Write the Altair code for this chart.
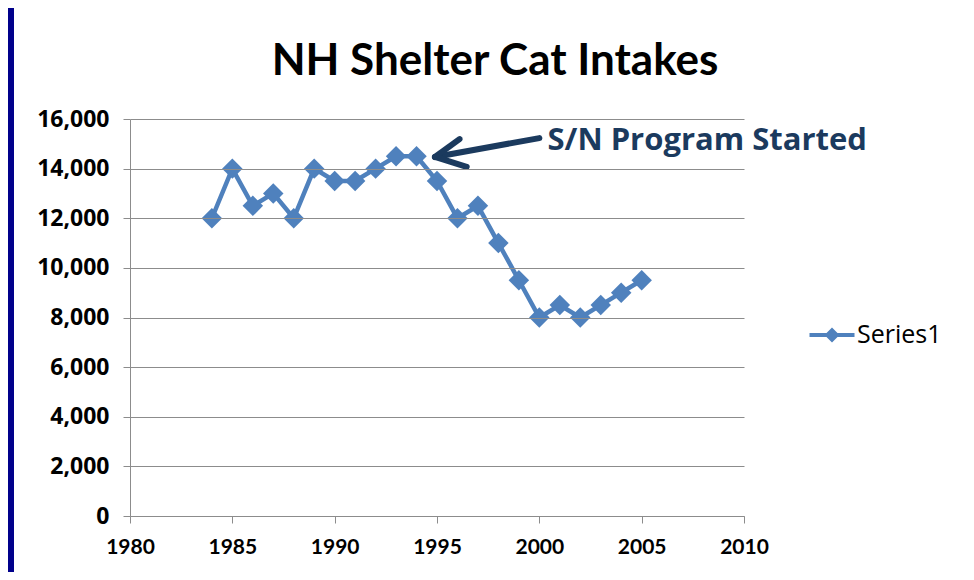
import altair as alt
import pandas as pd

years = [1984, 1985, 1986, 1987, 1988, 1989, 1990, 1991, 1992, 1993, 1994,
         1995, 1996, 1997, 1998, 1999, 2000, 2001, 2002, 2003, 2004, 2005]
intakes = [12000, 14000, 12500, 13000, 12000, 14000, 13500, 13500, 14000, 14500, 14500,
           13500, 12000, 12500, 11000, 9500, 8000, 8500, 8000, 8500, 9000, 9500]
series_name = "Series1"
title_text = "NH Shelter Cat Intakes"
note_text = "S/N Program Started"
x_ticks = [1980, 1985, 1990, 1995, 2000, 2005, 2010]
y_ticks = [0, 2000, 4000, 6000, 8000, 10000, 12000, 14000, 16000]

# annotation arrow (data coordinates): shaft + two arrowhead arms
arrow_seg = ["shaft", "shaft", "upper", "upper", "lower", "lower"]
arrow_x = [2000.0, 1994.9, 1994.9, 1996.1, 1994.9, 1996.45]
arrow_y = [15230, 14470, 14470, 15190, 14470, 14070]
arrow_ord = [0, 1, 0, 1, 0, 1]
note_x = [2000.4]
note_y = [15120]

BLUE = "#4F81BD"
NAVY = "#1B3A5E"
GRID = "#8C8C8C"

df = pd.DataFrame({"year": years, "intakes": intakes, "series": series_name})
arrow_df = pd.DataFrame({"seg": arrow_seg, "x": arrow_x, "y": arrow_y, "o": arrow_ord})
note_df = pd.DataFrame({"x": note_x, "y": note_y, "label": [note_text]})

xscale = alt.Scale(domain=[1980, 2010], nice=False, zero=False)
yscale = alt.Scale(domain=[0, 16000], nice=False)

xaxis = alt.Axis(values=x_ticks, format="d", title=None, grid=False, zindex=1,
                 labelFont="Lato", labelFontWeight="bold", labelFlush=False,
                 labelFontSize=21, labelColor="#000000", labelPadding=13,
                 tickSize=7, tickColor=GRID, domain=True, domainColor=GRID)
yaxis = alt.Axis(values=y_ticks, format=",d", title=None, grid=True, zindex=1,
                 gridColor=GRID, gridWidth=1,
                 labelFont="Open Sans", labelFontWeight="bold",
                 labelFontSize=23, labelColor="#000000", labelPadding=14,
                 tickSize=7, tickColor=GRID, domain=True, domainColor=GRID)

panel = alt.Chart(alt.Data(values=[{"a": 1}])).mark_rect(fill="white").encode(
    x=alt.value(-116), x2=alt.value(836), y=alt.value(-111), y2=alt.value(453)
)

line = alt.Chart(df).mark_line(color=BLUE, strokeWidth=4.5).encode(
    x=alt.X("year:Q", scale=xscale, axis=xaxis),
    y=alt.Y("intakes:Q", scale=yscale, axis=yaxis),
)

legend_path = ("M -1.5 -0.13 L 1.5 -0.13 L 1.5 0.13 L -1.5 0.13 Z "
               "M 0 -0.5 L 0.5 0 L 0 0.5 L -0.5 0 Z")

points = alt.Chart(df).mark_point(shape="diamond", filled=True, size=420, opacity=1).encode(
    x="year:Q",
    y="intakes:Q",
    color=alt.Color("series:N", scale=alt.Scale(domain=[series_name], range=[BLUE]),
                    legend=alt.Legend(title=None, orient="none", legendX=687, legendY=201,
                                      symbolType=legend_path, symbolSize=900,
                                      symbolStrokeWidth=0, symbolOpacity=1,
                                      labelFont="Open Sans", labelFontSize=25,
                                      labelColor="#000000", labelOffset=10, padding=0)),
)

arrow = alt.Chart(arrow_df).mark_line(color=NAVY, strokeWidth=6, strokeCap="round").encode(
    x="x:Q", y="y:Q", detail="seg:N", order="o:Q"
)

note = alt.Chart(note_df).mark_text(align="left", baseline="middle", font="Open Sans",
                                    fontWeight="bold", fontSize=31, color=NAVY).encode(
    x="x:Q", y="y:Q", text="label:N"
)

chart = alt.layer(panel, line, points, arrow, note).properties(
    width=614, height=397,
    padding={"left": 122, "top": 111, "right": 222, "bottom": 56},
    autosize=alt.AutoSizeParams(type="none"),
    background="#00008B",
    title=alt.TitleParams(title_text, font="Lato", fontWeight="bold",
                          fontSize=44, color="#000000", anchor="middle", dx=58, offset=-76),
).configure_view(stroke=None)

chart.save("out.html", embed_options={"renderer": "svg", "actions": False})
